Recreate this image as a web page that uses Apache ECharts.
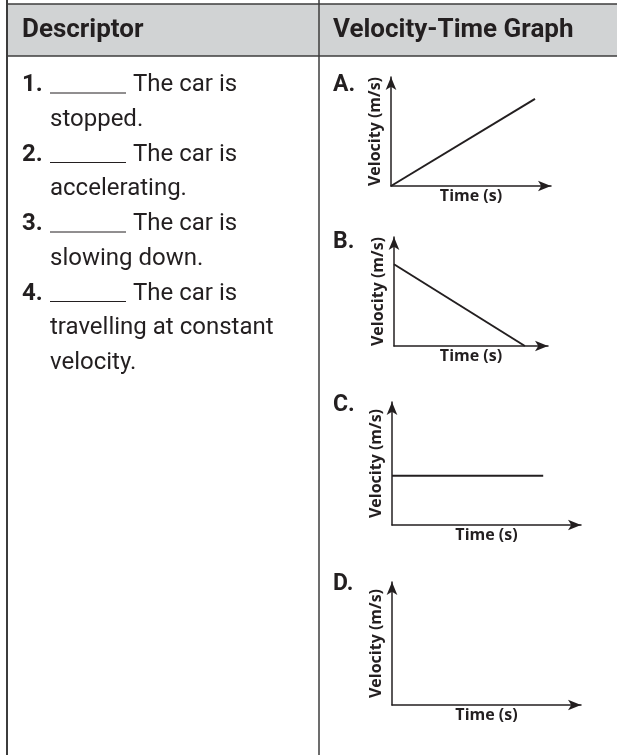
<!DOCTYPE html>
<html>
<head>
<meta charset="utf-8">
<script src="https://cdn.jsdelivr.net/npm/echarts@6/dist/echarts.min.js"></script>
<style>
html,body{margin:0;padding:0;background:#fff;}
#chart{width:617px;height:755px;}
</style>
</head>
<body>
<div id="chart"></div>
<script>
// ---- data ----
const headerTitles = ['Descriptor', 'Velocity-Time Graph'];
const descriptorNums = ['1.', '2.', '3.', '4.'];
const descriptorFirst = ['The car is', 'The car is', 'The car is', 'The car is'];
const descriptorRest = [['stopped.'], ['accelerating.'], ['slowing down.'], ['travelling at constant', 'velocity.']];
const graphLetters = ['A.', 'B.', 'C.', 'D.'];
const xAxisName = 'Time (s)';
const yAxisName = 'Velocity (m/s)';
const timeA = [0, 9];   const velA = [0, 8];
const timeB = [0, 8.5]; const velB = [7.5, 0];
const timeC = [0, 8];   const velC = [4, 4];
const timeD = [];       const velD = [];
const times = [timeA, timeB, timeC, timeD];
const vels = [velA, velB, velC, velD];

// ---- layout ----
const INK = '#231f20';
const LINE = '#3c3c3c';
const grids = [
  {left: 391, top: 77, width: 160, height: 109},
  {left: 394, top: 237, width: 154, height: 109},
  {left: 392, top: 402, width: 189, height: 123},
  {left: 392, top: 582, width: 189, height: 123}
];
const letterMid = [85, 242, 405, 584];

const chart = echarts.init(document.getElementById('chart'), null, {renderer: 'canvas'});

const axisLineBase = {
  show: true, onZero: false,
  symbol: ['none', 'arrow'], symbolSize: [8, 13],
  lineStyle: {color: INK, width: 1.5}
};
const nameStyle = {fontFamily: 'Open Sans', fontWeight: 'bold', fontSize: 16, color: INK, lineHeight: 16};

const xAxes = grids.map((g, i) => ({
  gridIndex: i, type: 'value', min: 0, max: 10,
  axisLine: axisLineBase, axisTick: {show: false}, axisLabel: {show: false}, splitLine: {show: false},
  name: xAxisName, nameLocation: 'middle', nameGap: 2, nameTextStyle: nameStyle
}));
const yAxes = grids.map((g, i) => ({
  gridIndex: i, type: 'value', min: 0, max: 10,
  axisLine: axisLineBase, axisTick: {show: false}, axisLabel: {show: false}, splitLine: {show: false},
  name: yAxisName, nameLocation: 'middle', nameGap: 8, nameTextStyle: nameStyle
}));
const series = grids.map((g, i) => ({
  type: 'line', xAxisIndex: i, yAxisIndex: i, symbol: 'none', silent: true,
  lineStyle: {color: INK, width: 2},
  data: times[i].map((t, k) => [t, vels[i][k]])
}));

// table + text graphics
const graphics = [];
graphics.push({type: 'rect', shape: {x: 7, y: 4, width: 610, height: 52}, style: {fill: '#d1d3d4'}, z: -1});
graphics.push({type: 'line', shape: {x1: 7, y1: 4, x2: 617, y2: 4}, style: {stroke: LINE, lineWidth: 1.5}});
graphics.push({type: 'line', shape: {x1: 7, y1: 56, x2: 617, y2: 56}, style: {stroke: LINE, lineWidth: 1.5}});
graphics.push({type: 'line', shape: {x1: 7, y1: 0, x2: 7, y2: 755}, style: {stroke: LINE, lineWidth: 2}});
graphics.push({type: 'line', shape: {x1: 319, y1: 0, x2: 319, y2: 755}, style: {stroke: LINE, lineWidth: 1.5}});
graphics.push({type: 'text', x: 22, y: 30, style: {text: headerTitles[0], fill: INK, font: 'bold 26px Roboto', verticalAlign: 'middle'}});
graphics.push({type: 'text', x: 333, y: 30, style: {text: headerTitles[1], fill: INK, font: 'bold 26px Roboto', verticalAlign: 'middle'}});

const pitch = 34.75;
let row = 0;
descriptorNums.forEach((n, i) => {
  const base = 93 + row * pitch;
  graphics.push({type: 'text', x: 22, y: base - 8, style: {text: n, fill: INK, font: 'bold 24px Roboto', verticalAlign: 'middle'}});
  graphics.push({type: 'line', shape: {x1: 50, y1: base, x2: 126, y2: base}, style: {stroke: INK, lineWidth: 1}});
  graphics.push({type: 'text', x: 133, y: base - 8, style: {text: descriptorFirst[i], fill: INK, font: 'normal 24px Roboto', verticalAlign: 'middle'}});
  row++;
  descriptorRest[i].forEach(t => {
    const b = 93 + row * pitch;
    graphics.push({type: 'text', x: 50, y: b - 8, style: {text: t, fill: INK, font: 'normal 24px Roboto', verticalAlign: 'middle'}});
    row++;
  });
});
graphLetters.forEach((l, i) => {
  graphics.push({type: 'text', x: 333, y: letterMid[i], style: {text: l, fill: INK, font: 'bold 23px Roboto', verticalAlign: 'middle'}});
});

chart.setOption({
  backgroundColor: '#ffffff',
  animation: false,
  grid: grids.map(g => Object.assign({containLabel: false}, g)),
  xAxis: xAxes,
  yAxis: yAxes,
  series: series,
  graphic: graphics
});
</script>
</body>
</html>
